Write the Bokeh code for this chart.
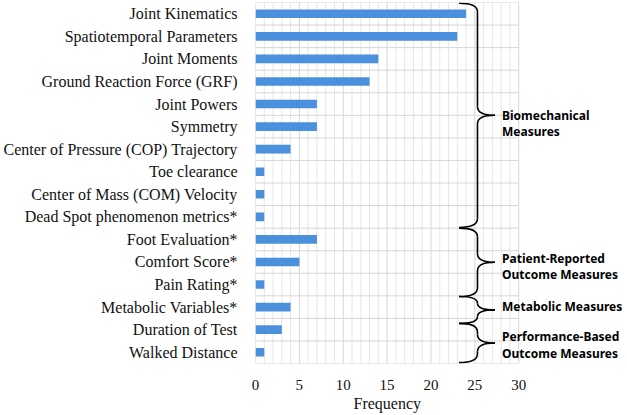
from bokeh.plotting import figure
from bokeh.models import Range1d, FixedTicker, Title
from bokeh.embed import file_html
from bokeh.resources import INLINE
from bokeh.core.properties import value

# ---- data -------------------------------------------------------------
categories = [
    "Joint Kinematics",
    "Spatiotemporal Parameters",
    "Joint Moments",
    "Ground Reaction Force (GRF)",
    "Joint Powers",
    "Symmetry",
    "Center of Pressure (COP) Trajectory",
    "Toe clearance",
    "Center of Mass (COM) Velocity",
    "Dead Spot phenomenon metrics*",
    "Foot Evaluation*",
    "Comfort Score*",
    "Pain Rating*",
    "Metabolic Variables*",
    "Duration of Test",
    "Walked Distance",
]
frequency = [24, 23, 14, 13, 7, 7, 4, 1, 1, 1, 7, 5, 1, 4, 3, 1]
x_ticks = [0, 5, 10, 15, 20, 25, 30]

group_names = [
    ["Biomechanical", "Measures"],
    ["Patient-Reported", "Outcome Measures"],
    ["Metabolic Measures"],
    ["Performance-Based", "Outcome Measures"],
]

# ---- figure -------------------------------------------------------------
X_MAX = 30
n = len(categories)
rows = list(range(n))

p = figure(
    width=627, height=415,
    x_range=Range1d(0, 42.4),
    y_range=Range1d(n - 0.5, -0.5),
    output_backend="svg", toolbar_location=None,
    min_border_left=254, min_border_right=0,
    min_border_top=2, min_border_bottom=52,
)
p.outline_line_color = None
p.xgrid.visible = False
p.ygrid.visible = False

# grid: fine vertical lines every unit, heavier ones every 5, row separators
minor = [v for v in range(0, X_MAX + 1) if v % 5]
major = [v for v in range(0, X_MAX + 1) if v % 5 == 0]
p.segment(x0=minor, y0=[-0.5] * len(minor), x1=minor, y1=[n - 0.5] * len(minor),
          line_color="#e6e6e6", line_width=1)
seps = [r - 0.5 for r in range(n + 1)]
p.segment(x0=[0] * len(seps), y0=seps, x1=[X_MAX] * len(seps), y1=seps,
          line_color="#d6d6d6", line_width=1)
p.segment(x0=major, y0=[-0.5] * len(major), x1=major, y1=[n - 0.5] * len(major),
          line_color="#d6d6d6", line_width=1)

# bars
p.hbar(y=rows, right=frequency, left=0, height=0.38,
       fill_color="#4a90dc", line_color=None)

# axes
serif = "Liberation Serif"
p.yaxis.ticker = FixedTicker(ticks=rows)
p.yaxis.major_label_overrides = {i: c for i, c in enumerate(categories)}
p.yaxis.major_label_text_font = serif
p.yaxis.major_label_text_font_size = "16px"
p.yaxis.major_label_text_color = "#111111"
p.yaxis.major_label_standoff = 12
p.yaxis.axis_line_color = None
p.yaxis.major_tick_line_color = None
p.yaxis.minor_tick_line_color = None

p.xaxis.ticker = FixedTicker(ticks=x_ticks)
p.xaxis.major_label_text_font = serif
p.xaxis.major_label_text_font_size = "15px"
p.xaxis.major_label_text_color = "#111111"
p.xaxis.major_label_standoff = 10
p.xaxis.axis_line_color = None
p.xaxis.major_tick_line_color = None
p.xaxis.minor_tick_line_color = None

# axis title under the 0-30 span of the value axis
p.add_layout(Title(text="Frequency", text_font=serif, text_font_size="16px",
                   text_font_style="normal", text_color="#111111",
                   align="left", offset=98, standoff=0), "below")

# ---- curly braces grouping the rows -------------------------------------
x_end, x_spine, x_tip, x_text = 23.2, 25.3, 27.3, 28.1
brace_extent = [(-0.47, 9.47), (9.5, 12.53), (12.53, 13.72), (13.72, 15.46)]
for (y0, y1) in brace_extent:
    ym = (y0 + y1) / 2
    r = min(0.38, (y1 - y0) / 4)
    # hooks at both ends and the pointed middle
    p.quadratic(x0=[x_end, x_spine, x_tip, x_spine],
                y0=[y0, ym - r, ym, y1 - r],
                x1=[x_spine, x_tip, x_spine, x_end],
                y1=[y0 + r, ym, ym + r, y1],
                cx=[x_spine, x_spine, x_spine, x_spine],
                cy=[y0, ym, ym, y1],
                line_color="black", line_width=1.6)
    p.segment(x0=[x_spine, x_spine], y0=[y0 + r, ym + r],
              x1=[x_spine, x_spine], y1=[ym - r, y1 - r],
              line_color="black", line_width=1.6)

text_rows = [[4.5, 5.2], [10.83, 11.56], [12.97], [14.3, 15.05]]
for lines, ys in zip(group_names, text_rows):
    p.text(x=[x_text] * len(lines), y=ys, text=lines,
           text_font=value("Noto Sans"), text_font_style="bold",
           text_font_size="12px", text_align="left", text_baseline="middle",
           text_color="black")

open("out.html", "w").write(file_html(p, INLINE))
